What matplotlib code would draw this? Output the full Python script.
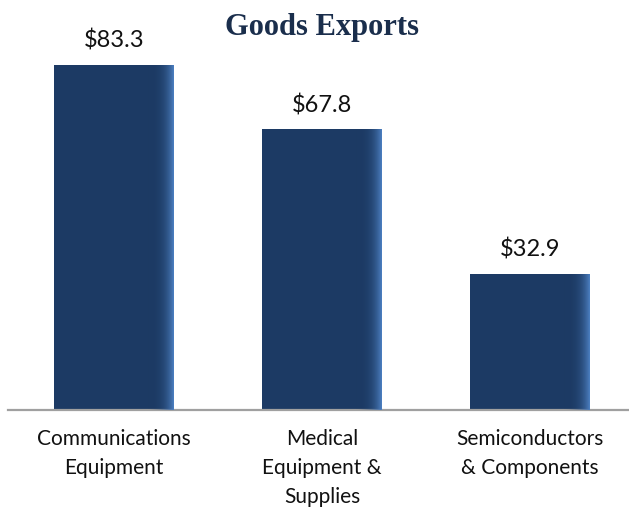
import numpy as np
import matplotlib.pyplot as plt
from matplotlib.colors import LinearSegmentedColormap

categories = ['Communications\nEquipment', 'Medical\nEquipment &\nSupplies', 'Semiconductors\n& Components']
values = [83.3, 67.8, 32.9]
value_labels = ['$83.3', '$67.8', '$32.9']

fig = plt.figure(figsize=(6.29, 5.08), dpi=100)
ax = fig.add_axes([8 / 629, (508 - 410) / 508, 621 / 629, 390 / 508])

x = np.arange(len(values))
bars = ax.bar(x, values, width=0.577, color='#1c3a64', zorder=2)

# light sheen toward the right edge of each bar
shade = LinearSegmentedColormap.from_list('shade', [(0.11, 0.23, 0.39, 0.0), (0.30, 0.50, 0.76, 1.0)])
grad = np.linspace(0, 1, 256).reshape(1, -1)
grad = np.clip((grad - 0.78) / 0.22, 0, 1) ** 1.6
for b in bars:
    x0, w, h = b.get_x(), b.get_width(), b.get_height()
    im = ax.imshow(grad, cmap=shade, aspect='auto', extent=(x0, x0 + w, 0, h), zorder=3, vmin=0, vmax=1)
    im.set_clip_path(b)

for xi, v, lab in zip(x, values, value_labels):
    ax.text(xi, v + 3.2, lab, ha='center', va='bottom', fontsize=17, family='Lato', color='#111111')

ax.set_xlim(-0.51, 2.476)
ax.set_ylim(0, 94.2)
ax.set_yticks([])
ax.set_xticks(x)
ax.set_xticklabels(categories, fontsize=15, family='Lato', color='#111111', linespacing=1.55)
ax.tick_params(axis='x', length=0, pad=14)
for side in ['top', 'right', 'left']:
    ax.spines[side].set_visible(False)
ax.spines['bottom'].set_color('#a0a0a0')
ax.spines['bottom'].set_linewidth(1.6)

fig.text(322 / 629, 1 - 28 / 508, 'Goods Exports', ha='center', va='center', fontsize=22,
         fontweight='bold', family='Liberation Serif', color='#1a2e4c')

fig.savefig('out.png', dpi=100)
